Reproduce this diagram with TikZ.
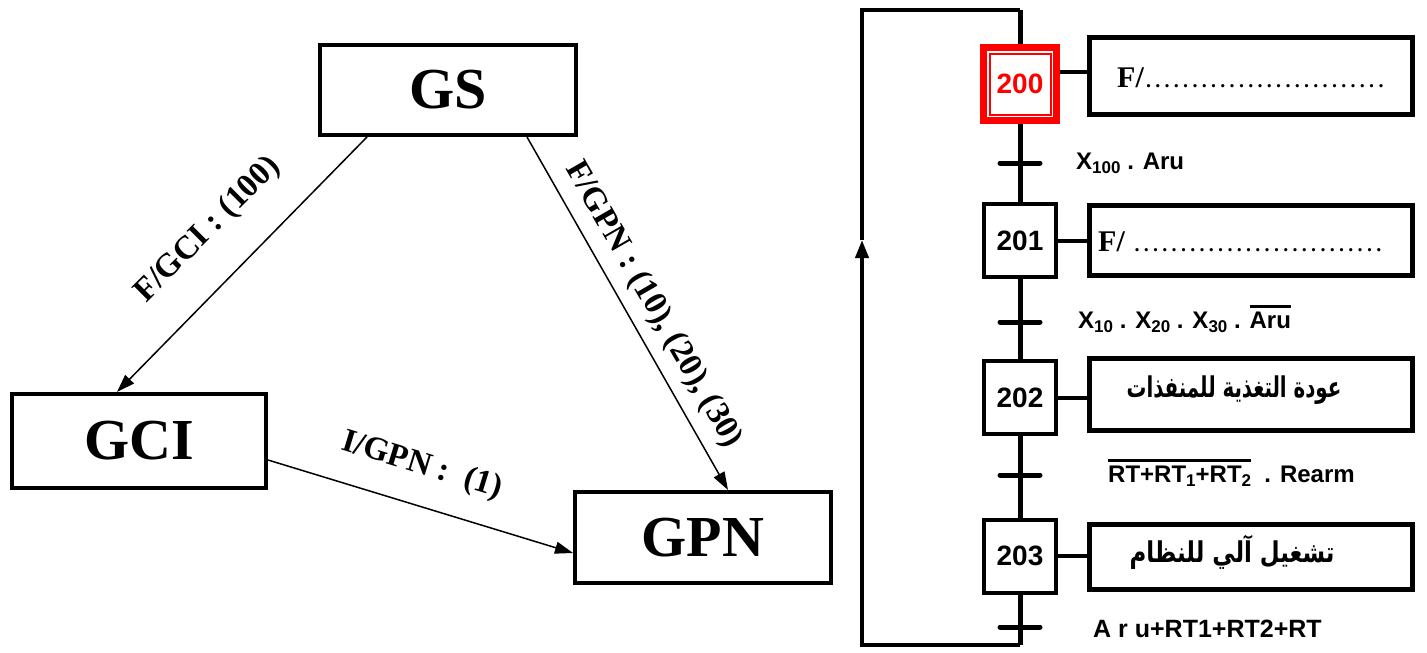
\documentclass[tikz,border=0pt]{standalone}
\usepackage{fontspec}
\usepackage{graphicx}
\setmainfont{Liberation Serif}
\setsansfont{Liberation Sans}
\newfontfamily\arabicfont[Script=Arabic]{DejaVu Sans}
\TeXXeTstate=1
\usetikzlibrary{arrows.meta,calc}
\newsavebox\ovlbox
\newcommand\ovl[1]{\sbox\ovlbox{#1}\rlap{\raisebox{\dimexpr\ht\ovlbox+3pt\relax}{\rule{\wd\ovlbox}{3pt}}}\usebox\ovlbox}
\newcommand\gsub[1]{\raisebox{-0.18em}{\fontsize{17}{17}\selectfont #1}}
\newcommand\dotrun[1]{\hbox to #1{\leaders\hbox to 9.3pt{\hss\fontsize{20}{20}\selectfont.\hss}\hfill}}
\begin{document}
\begin{tikzpicture}[x=1pt,y=-1pt,
  bigbox/.style={draw,line width=4pt,font=\fontsize{58}{60}\selectfont\bfseries,inner sep=0pt},
  arr/.style={line width=1.5pt,-{Triangle[length=18pt,width=12pt]}},
  elab/.style={font=\fontsize{33}{35}\selectfont\bfseries,inner sep=0pt},
  stepbox/.style={draw,line width=4pt,minimum width=72pt,minimum height=73pt,inner sep=0pt,font=\sffamily\bfseries\fontsize{28}{30}\selectfont},
  actbox/.style={draw,line width=5pt,minimum width=323pt,inner sep=0pt},
  mainline/.style={line width=5pt},
  loopline/.style={line width=4pt,line join=miter},
  link/.style={line width=4pt},
  trbar/.style={line width=5pt,line cap=round},
  tlab/.style={anchor=base west,inner sep=0pt,font=\sffamily\bfseries\fontsize{24}{26}\selectfont},
  actf/.style={anchor=base west,inner sep=0pt,font=\fontsize{30}{32}\selectfont\bfseries},
  arab/.style={inner sep=0pt,font=\arabicfont\bfseries\fontsize{26}{30}\selectfont}
]
\useasboundingbox (0,0) rectangle (1427,653);
% ---------- left: GS / GCI / GPN ----------
\node[bigbox,minimum width=256pt,minimum height=90pt] (GS) at (448,90) {GS};
\node[bigbox,minimum width=254pt,minimum height=94pt] (GCI) at (139,441) {GCI};
\node[bigbox,minimum width=256pt,minimum height=91pt] (GPN) at (703,537.5) {GPN};
\draw[arr] ([xshift=49pt]GS.south west) -- ([xshift=107pt]GCI.north west);
\draw[arr] ([xshift=209pt]GS.south west) -- ([xshift=155pt]GPN.north west);
\draw[arr] ([yshift=30pt]GCI.south east) -- ([yshift=-15.5pt]GPN.west);
\node[elab,rotate=45] (lgci) at (208,230) {F/GCI : (100)};
\node[elab,rotate=-60] (lgpn) at (653,305) {F/GPN : (10), (20), (30)};
\node[elab,rotate=-17] (lign) at (422,466) {I/GPN :\ \ (1)};
% ---------- right: grafcet ----------
\node[draw=red,line width=7pt,minimum size=73pt,inner sep=0pt,text=red,font=\sffamily\bfseries\fontsize{28}{30}\selectfont] (s200) at (1020,84) {200};
\draw[red,line width=2pt] ([shift={(-30.5,-30.5)}]s200.center) rectangle ([shift={(30.5,30.5)}]s200.center);
\node[stepbox] (s201) at (1020,240.5) {201};
\node[stepbox] (s202) at (1020,397.5) {202};
\node[stepbox] (s203) at (1020,556) {203};
\node[actbox,minimum height=77pt] (a200) at (1251,76) {};
\node[actbox,minimum height=70pt] (a201) at (1251,240.5) {};
\node[actbox,minimum height=72pt] (a202) at (1251,394) {};
\node[actbox,minimum height=65pt] (a203) at (1251,557) {};
\draw[link] ([yshift=12pt]s200.east) -- ([yshift=4pt]a200.west);
\draw[link] (s201.east) -- (s201.east -| a201.west);
\draw[link] (s202.east) -- (s202.east -| a202.west);
\draw[link] (s203.east) -- (s203.east -| a203.west);
\node[actf] (f200) at (1117,87) {F/\dotrun{243pt}};
\node[actf] (f201) at (1098,251) {F/\ \dotrun{255pt}};
\node[arab] (t202) at (1234,390) {\scalebox{0.76}[1.1]{\beginR عودة التغذية للمنفذات\endR}};
\node[arab] (t203) at (1232,552) {\scalebox{0.88}[1.1]{\beginR تشغيل آلي للنظام\endR}};
\coordinate (tl) at (862,10);
\coordinate (tr) at (1020,10);
\coordinate (bl) at (862,645);
\coordinate (br) at (1020,645);
\coordinate (ar) at (862,240);
\coordinate (t1) at (1020,163);
\coordinate (t2) at (1020,322);
\coordinate (t3) at (1020,475);
\coordinate (t4) at (1020,627);
\draw[mainline] (tr) -- (s200.north);
\draw[mainline] (s200.south) -- (s201.north);
\draw[mainline] (s201.south) -- (s202.north);
\draw[mainline] (s202.south) -- (s203.north);
\draw[mainline] (s203.south) -- (br);
\draw[loopline,-{Triangle[length=18pt,width=13pt]}] (br) -- (bl) -- (ar);
\draw[loopline] (ar) -- (tl) -- (tr);
\foreach \t in {t1,t2,t3,t4}{\draw[trbar] ([xshift=-20pt]\t) -- ([xshift=20pt]\t);}
\node[tlab] (l1) at (1076,169) {X\gsub{100} . Aru};
\node[tlab] (l2) at (1078,328) {X\gsub{10} . X\gsub{20} . X\gsub{30} . \ovl{Aru}};
\node[tlab] (l3) at (1108,482) {\ovl{RT+RT\gsub{1}+RT\gsub{2}}\ \ . Rearm};
\node[tlab,font=\sffamily\bfseries\fontsize{25}{27}\selectfont] (l4) at (1093,637) {A r u+RT1+RT2+RT};
\end{tikzpicture}
\end{document}
